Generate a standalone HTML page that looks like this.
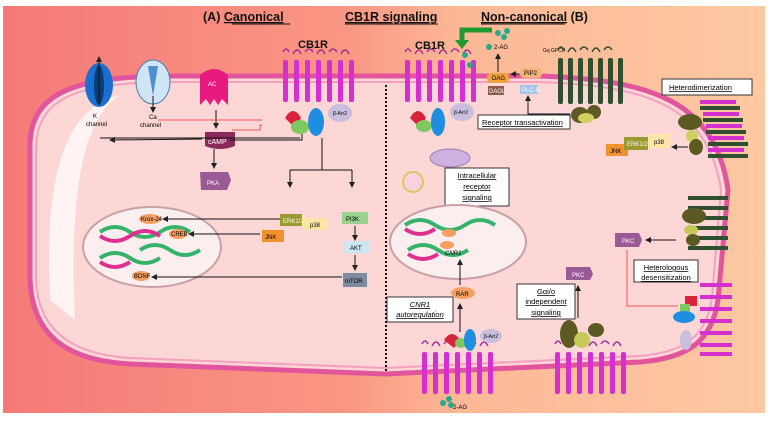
<!DOCTYPE html>
<html><head><meta charset="utf-8"><style>
html,body{margin:0;padding:0;background:#fff;width:768px;height:422px;overflow:hidden}
svg{display:block}
text{font-family:"Liberation Sans",sans-serif}
</style></head><body>
<svg width="768" height="422" viewBox="0 0 768 422" xmlns="http://www.w3.org/2000/svg">
<defs>
<linearGradient id="bg" x1="0" x2="1" y1="0" y2="0">
<stop offset="0" stop-color="#f47a78"/><stop offset="0.45" stop-color="#fa9684"/><stop offset="0.6" stop-color="#fdb896"/><stop offset="1" stop-color="#fdc9a2"/>
</linearGradient>
<marker id="ar" markerWidth="6" markerHeight="6" refX="5" refY="3" orient="auto"><path d="M0,0 L6,3 L0,6 Z" fill="#222"/></marker>
<g id="rec">
<path d="M0,-8 q3,-6 6,0 M10,-6 q4,-8 8,0 M22,-8 q4,-6 8,0 M34,-6 q4,-8 8,0 M46,-8 q4,-6 8,0 M58,-6 q4,-8 8,0" stroke="#a0309a" stroke-width="1.5" fill="none"/>
<g fill="#d52fd0"><rect x="0" y="0" width="5" height="42" rx="2"/><rect x="11" y="0" width="5" height="42" rx="2"/><rect x="22" y="0" width="5" height="42" rx="2"/><rect x="33" y="0" width="5" height="42" rx="2"/><rect x="44" y="0" width="5" height="42" rx="2"/><rect x="55" y="0" width="5" height="42" rx="2"/><rect x="66" y="0" width="5" height="42" rx="2"/></g>
</g>
<g id="grec">
<path d="M0,-8 q3,-6 6,0 M10,-6 q4,-8 8,0 M22,-8 q4,-6 8,0 M34,-6 q4,-8 8,0 M46,-8 q4,-6 8,0" stroke="#2e4a2e" stroke-width="1.5" fill="none"/>
<g fill="#2f4f2f"><rect x="0" y="0" width="5" height="46" rx="2"/><rect x="10" y="0" width="5" height="46" rx="2"/><rect x="20" y="0" width="5" height="46" rx="2"/><rect x="30" y="0" width="5" height="46" rx="2"/><rect x="40" y="0" width="5" height="46" rx="2"/><rect x="50" y="0" width="5" height="46" rx="2"/><rect x="60" y="0" width="5" height="46" rx="2"/></g>
</g>
</defs>
<rect x="3" y="6" width="762" height="407" fill="url(#bg)"/>
<path d="M30 150 C28 95,70 78,160 76 L540 76 C650 80,715 100,728 190 L718 300 C712 340,690 358,640 362 L385 374 L130 364 C60 360,32 330,30 280 Z" fill="#fdd6d6" stroke="#e2559c" stroke-width="5"/>
<path d="M36 150 C36 100,72 84,160 82 L540 82 C645 86,708 104,721 190 L712 298 C706 336,686 352,640 356 L385 368 L130 358 C66 354,38 326,36 280 Z" fill="none" stroke="#f5a0c0" stroke-width="2"/>
<path d="M50 300 C45 200,55 110,120 95 C80 120,70 200,75 320 Z" fill="#ffffff" opacity="0.7"/>
<line x1="386" y1="85" x2="386" y2="372" stroke="#111" stroke-width="2" stroke-dasharray="2,2"/>
<g font-size="12.5" font-weight="bold" fill="#111">
<text x="203" y="21">(A) <tspan text-decoration="underline">Canonical</tspan></text>
<text x="345" y="21" text-decoration="underline">CB1R signaling</text>
<text x="481" y="21"><tspan text-decoration="underline">Non-canonical</tspan> (B)</text>
<text x="298" y="48" font-size="11">CB1R</text>
<text x="415" y="49" font-size="11">CB1R</text>
</g>
<line x1="232" y1="24" x2="290" y2="24" stroke="#111"/><line x1="345" y1="24" x2="438" y2="24" stroke="#111"/><line x1="481" y1="24" x2="565" y2="24" stroke="#111"/>
<ellipse cx="99" cy="85" rx="14" ry="22" fill="#1a6fd0"/><ellipse cx="99" cy="85" rx="5" ry="20" fill="#0b3d7a"/>
<line x1="99" y1="105" x2="99" y2="57" stroke="#111" marker-end="url(#ar)"/>
<text x="93" y="118" font-size="6">K</text><text x="86" y="126" font-size="6">channel</text>
<ellipse cx="153" cy="82" rx="17" ry="22" fill="#cfe4f5" stroke="#4b7ca8"/><path d="M148 66 L158 66 L153 96 Z" fill="#4d8fcf"/>
<line x1="153" y1="96" x2="153" y2="112" stroke="#111" marker-end="url(#ar)"/>
<text x="149" y="119" font-size="6">Ca</text><text x="140" y="127" font-size="6">channel</text>
<path d="M200 75 q14-12 28 0 v30 l-6-6-4 6-4-6-4 6-4-6-6 6 Z" fill="#e8197f"/><text x="208" y="86" font-size="6" fill="#fff">AC</text>
<line x1="216" y1="110" x2="216" y2="128" stroke="#111" marker-end="url(#ar)"/>
<path d="M205 132 h30 v14 q-15 6-30 0 Z" fill="#8a2a5a"/><text x="208" y="144" font-size="7" fill="#fff">cAMP</text>
<line x1="214" y1="149" x2="214" y2="168" stroke="#111" marker-end="url(#ar)"/>
<path d="M200 172 h28 l3 8 -4 10 h-26 Z" fill="#9a5a96"/><text x="207" y="185" font-size="6" fill="#fff">PKA</text>
<line x1="202" y1="139" x2="110" y2="140" stroke="#111" marker-end="url(#ar)"/>
<path d="M300 138 H100" stroke="#111" fill="none"/>
<path d="M262 120 H158 M262 125 H260 V130 H232" stroke="#e55" fill="none"/>
<use href="#rec" x="283" y="60"/>
<path d="M285 118 q8-14 16 0 l-6 10 Z" fill="#d8233a"/>
<ellipse cx="300" cy="127" rx="9" ry="7" fill="#7ec860"/>
<ellipse cx="316" cy="122" rx="8" ry="14" fill="#1e8fe0"/>
<ellipse cx="340" cy="113" rx="12" ry="9" fill="#c9bede"/><text x="333" y="115" font-size="5">β-Arr2</text>
<path d="M302 134 V140 H230 M322 138 V170 M290 170 H352 M290 170 V186 M352 170 V186" stroke="#111" fill="none"/>
<line x1="290" y1="178" x2="290" y2="187" stroke="#111" marker-end="url(#ar)"/><line x1="352" y1="178" x2="352" y2="187" stroke="#111" marker-end="url(#ar)"/>
<ellipse cx="152" cy="247" rx="69" ry="40" fill="#fbeeee" stroke="#c9a0a6" stroke-width="2"/>
<path d="M100 232 q15-10 30 0 t30 0 t30 0 M100 258 q15-10 30 0 t30 0 M140 250 q15-10 30 0 t30 0" stroke="#36b36a" stroke-width="4" fill="none"/>
<path d="M100 236 q15 10 30 0 t30 0 M100 262 q15 10 30 0" stroke="#e0308f" stroke-width="4" fill="none"/>
<g font-size="6"><ellipse cx="150" cy="219" rx="11" ry="5" fill="#f5a060"/><text x="141" y="221">Krox-24</text>
<ellipse cx="178" cy="234" rx="9" ry="5" fill="#f5a060"/><text x="171" y="236">CREB</text>
<ellipse cx="141" cy="276" rx="9" ry="5" fill="#f5a060"/><text x="134" y="278">BDNF</text></g>
<g stroke="#111"><line x1="282" y1="219" x2="163" y2="219" marker-end="url(#ar)"/><line x1="260" y1="234" x2="189" y2="234" marker-end="url(#ar)"/><line x1="342" y1="277" x2="152" y2="277" marker-end="url(#ar)"/><line x1="355" y1="226" x2="355" y2="240" marker-end="url(#ar)"/><line x1="355" y1="255" x2="355" y2="270" marker-end="url(#ar)"/></g>
<g font-size="6"><path d="M262 230 h22 v12 h-22 Z" fill="#f0922e"/><text x="265" y="239">JNK</text>
<path d="M280 214 h22 v12 h-22 Z" fill="#9a9a30"/><text x="283" y="223" fill="#fff">ERK1/2</text>
<path d="M302 218 h26 v12 h-26 Z" fill="#fbe6a8"/><text x="310" y="227">p38</text>
<path d="M342 212 h26 v12 h-26 Z" fill="#9ad090"/><text x="346" y="221">PI3K</text>
<path d="M344 241 h26 v12 h-26 Z" fill="#cde6f3"/><text x="350" y="250">AKT</text>
<path d="M343 273 h24 v14 h-24 Z" fill="#7d8aa0"/><text x="345" y="283">mTOR</text></g>
<use href="#rec" x="405" y="60"/>
<path d="M410 118 q8-14 16 0 l-6 10 Z" fill="#d8233a"/>
<ellipse cx="424" cy="126" rx="8" ry="6" fill="#7ec860"/><ellipse cx="438" cy="122" rx="7" ry="14" fill="#1e8fe0"/>
<ellipse cx="462" cy="112" rx="12" ry="9" fill="#c9bede"/><text x="454" y="114" font-size="5">β-Arr2</text>
<g fill="#2aa88a"><circle cx="498" cy="33" r="3"/><circle cx="504" cy="37" r="3"/><circle cx="507" cy="31" r="3"/><circle cx="465" cy="55" r="3"/><circle cx="470" cy="65" r="3"/><circle cx="489" cy="47" r="3"/></g>
<text x="494" y="49" font-size="6">2-AG</text>
<path d="M492 30 H462 V42" stroke="#1f9a30" stroke-width="5" fill="none"/><path d="M455 40 L469 40 L462 49 Z" fill="#1f9a30"/>
<line x1="498" y1="72" x2="498" y2="54" stroke="#111" marker-end="url(#ar)"/>
<g font-size="6"><rect x="487" y="73" width="22" height="10" rx="4" fill="#f2a23c"/><text x="492" y="80">DAG</text>
<rect x="520" y="68" width="22" height="10" rx="4" fill="#f2b478"/><text x="524" y="75">PIP2</text>
<rect x="488" y="86" width="16" height="9" fill="#8a5a4a"/><text x="489" y="93" fill="#fff">DAGL</text>
<rect x="520" y="85" width="18" height="9" fill="#a6c4e8"/><text x="522" y="92" fill="#fff">PLC-B</text>
<text x="543" y="52" font-size="5">Gq GPCR</text></g>
<line x1="519" y1="74" x2="511" y2="74" stroke="#111" marker-end="url(#ar)"/>
<use href="#grec" x="558" y="58"/>
<ellipse cx="580" cy="115" rx="9" ry="8" fill="#5a5a22"/><ellipse cx="594" cy="112" rx="7" ry="7" fill="#5a5a22"/><ellipse cx="586" cy="118" rx="8" ry="5" fill="#d0d060"/>
<path d="M570 114 H528 V96" stroke="#111" fill="none" marker-end="url(#ar)"/>
<rect x="478" y="115" width="92" height="14" fill="#fff" stroke="#333"/><text x="482" y="125" font-size="7.5" text-decoration="underline">Receptor transactivation</text>
<rect x="662" y="79" width="90" height="16" fill="#fff" stroke="#333"/><text x="669" y="90" font-size="7.5" text-decoration="underline">Heterodimerization</text>
<g fill="#d52fd0"><rect x="700" y="100" width="36" height="4"/><rect x="703" y="112" width="36" height="4"/><rect x="706" y="124" width="36" height="4"/><rect x="708" y="136" width="36" height="4"/><rect x="708" y="148" width="36" height="4"/></g>
<g fill="#2f4f2f"><rect x="700" y="106" width="40" height="4"/><rect x="703" y="118" width="40" height="4"/><rect x="706" y="130" width="40" height="4"/><rect x="708" y="142" width="40" height="4"/><rect x="708" y="154" width="40" height="4"/></g>
<ellipse cx="690" cy="122" rx="12" ry="8" fill="#5a5a22"/><ellipse cx="692" cy="136" rx="6" ry="6" fill="#d0d060"/><ellipse cx="696" cy="147" rx="7" ry="8" fill="#5a5a22"/>
<g font-size="6"><path d="M606 144 h22 v12 h-22 Z" fill="#f0922e"/><text x="610" y="153">JNK</text>
<path d="M624 137 h24 v13 h-24 Z" fill="#9a9a30"/><text x="627" y="146" fill="#fff">ERK1/2</text>
<path d="M648 134 h22 v14 h-22 Z" fill="#fbe6a8"/><text x="654" y="144">p38</text></g>
<line x1="688" y1="147" x2="672" y2="147" stroke="#111" marker-end="url(#ar)"/>
<!-- intracellular -->
<ellipse cx="450" cy="158" rx="20" ry="9" fill="#d0b0e0" stroke="#a080b0"/>
<circle cx="413" cy="182" r="10" fill="#fcd0e0" stroke="#d8c860" stroke-width="2"/>
<rect x="445" y="168" width="64" height="38" fill="#fff" stroke="#333"/>
<g font-size="7.5" text-anchor="middle" text-decoration="underline"><text x="477" y="178">Intracellular</text><text x="477" y="189">receptor</text><text x="477" y="200">signaling</text></g>
<ellipse cx="458" cy="242" rx="68" ry="37" fill="#fbeeee" stroke="#c9a0a6" stroke-width="2"/>
<path d="M405 225 q15-10 30 0 t30 0 t30 0 M408 250 q15-10 30 0 t30 0" stroke="#36b36a" stroke-width="4" fill="none"/>
<path d="M405 229 q15 10 30 0 M408 254 q15 10 30 0" stroke="#e0308f" stroke-width="4" fill="none"/>
<ellipse cx="449" cy="233" rx="7" ry="4" fill="#f5a060"/><ellipse cx="447" cy="245" rx="7" ry="4" fill="#f5a060"/>
<text x="445" y="255" font-size="6" font-style="italic">CNR1</text>
<line x1="460" y1="285" x2="460" y2="260" stroke="#111" marker-end="url(#ar)"/>
<ellipse cx="463" cy="293" rx="12" ry="6" fill="#f5a060"/><text x="456" y="296" font-size="6">RAR</text>
<line x1="460" y1="332" x2="460" y2="304" stroke="#111" marker-end="url(#ar)"/>
<rect x="387" y="297" width="66" height="25" fill="#fff" stroke="#333"/>
<g font-size="7.5" text-anchor="middle" font-style="italic" text-decoration="underline"><text x="420" y="307">CNR1</text><text x="420" y="317">autoregulation</text></g>
<use href="#rec" x="422" y="352"/>
<path d="M444 340 q8-12 16 0 l-6 8 Z" fill="#d8233a"/><ellipse cx="461" cy="343" rx="6" ry="5" fill="#7ec860"/><ellipse cx="470" cy="340" rx="6" ry="11" fill="#1e8fe0"/>
<ellipse cx="491" cy="336" rx="11" ry="7" fill="#c9bede"/><text x="484" y="338" font-size="5">β-Arr2</text>
<g fill="#2aa88a"><circle cx="443" cy="403" r="3"/><circle cx="449" cy="399" r="3"/><circle cx="451" cy="405" r="3"/></g><text x="453" y="409" font-size="6">2-AG</text>
<rect x="517" y="284" width="58" height="35" fill="#fff" stroke="#333"/>
<g font-size="7.5" text-anchor="middle" text-decoration="underline"><text x="546" y="294">Gαi/o</text><text x="546" y="304">independent</text><text x="546" y="315">signaling</text></g>
<path d="M566 267 h24 l3 7 -3 6 h-24 Z" fill="#9a5a96"/><text x="572" y="277" font-size="6" fill="#fff">PKC</text>
<line x1="578" y1="318" x2="578" y2="286" stroke="#111" marker-end="url(#ar)"/>
<use href="#rec" x="555" y="352"/>
<ellipse cx="569" cy="334" rx="9" ry="14" fill="#5a5a22"/><ellipse cx="582" cy="340" rx="8" ry="8" fill="#c8c85a"/><ellipse cx="596" cy="330" rx="8" ry="7" fill="#5a5a22"/>
<path d="M615 233 h24 l3 7 -3 7 h-24 Z" fill="#9a5a96"/><text x="622" y="243" font-size="6" fill="#fff">PKC</text>
<line x1="676" y1="240" x2="646" y2="240" stroke="#111" marker-end="url(#ar)"/>
<g fill="#2f4f2f"><rect x="688" y="196" width="40" height="4"/><rect x="688" y="206" width="40" height="4"/><rect x="688" y="216" width="40" height="4"/><rect x="688" y="226" width="40" height="4"/><rect x="688" y="236" width="40" height="4"/><rect x="688" y="246" width="40" height="4"/></g>
<ellipse cx="694" cy="216" rx="12" ry="8" fill="#5a5a22"/><ellipse cx="691" cy="230" rx="7" ry="5" fill="#c8c85a"/><ellipse cx="693" cy="240" rx="7" ry="6" fill="#5a5a22"/>
<rect x="634" y="260" width="64" height="22" fill="#fff" stroke="#333"/>
<g font-size="7.5" text-anchor="middle" text-decoration="underline"><text x="666" y="270">Heterologous</text><text x="666" y="280">desensitization</text></g>
<path d="M627 250 V306 H678" stroke="#e55" fill="none"/>
<g fill="#d52fd0"><rect x="700" y="283" width="32" height="4"/><rect x="700" y="295" width="32" height="4"/><rect x="700" y="307" width="32" height="4"/><rect x="700" y="319" width="32" height="4"/><rect x="700" y="331" width="32" height="4"/><rect x="700" y="343" width="32" height="4"/><rect x="700" y="352" width="32" height="4"/></g>
<rect x="685" y="296" width="12" height="10" fill="#d8233a"/><rect x="680" y="304" width="10" height="8" fill="#7ec860"/><ellipse cx="684" cy="317" rx="11" ry="6" fill="#1e8fe0"/>
<ellipse cx="686" cy="340" rx="6" ry="10" fill="#c9bede"/>
</svg>
</body></html>
